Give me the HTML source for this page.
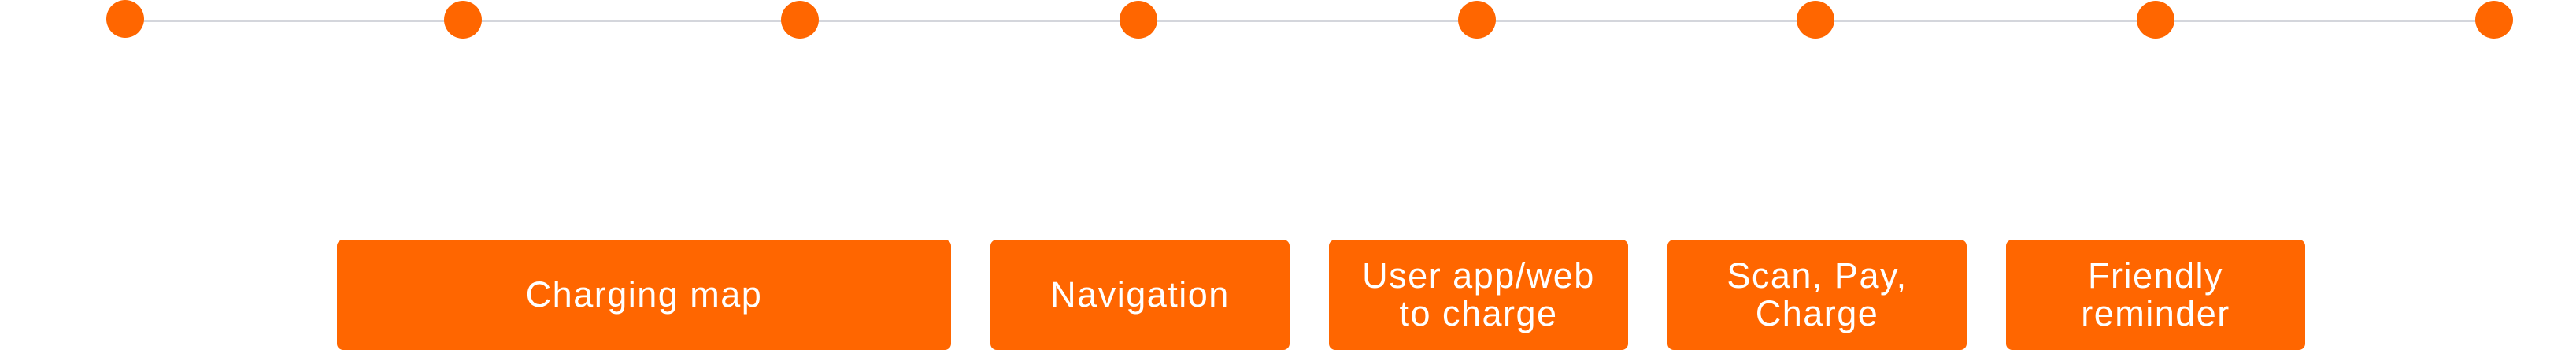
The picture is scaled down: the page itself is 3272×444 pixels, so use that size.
<!DOCTYPE html>
<html><head><style>
html,body{margin:0;padding:0;background:#fff;}
body{width:3272px;height:444px;position:relative;overflow:hidden;font-family:"Liberation Sans",sans-serif;}
.line{position:absolute;left:160px;width:3008px;top:25px;height:3px;background:#d4d6dc;}
.dot{position:absolute;width:48px;height:48px;border-radius:50%;background:#ff6600;top:1px;}
.box{position:absolute;top:304px;height:140px;background:#ff6600;border-radius:8px;color:#fff;display:flex;align-items:center;justify-content:center;text-align:center;font-size:45px;line-height:48px;font-weight:300;letter-spacing:1.5px;}
</style></head><body>
<div class="line"></div>
<div class="dot" style="left:135px;top:0"></div>
<div class="dot" style="left:564px"></div>
<div class="dot" style="left:992px"></div>
<div class="dot" style="left:1422px"></div>
<div class="dot" style="left:1852px"></div>
<div class="dot" style="left:2282px"></div>
<div class="dot" style="left:2714px"></div>
<div class="dot" style="left:3144px"></div>
<div class="box" style="left:428px;width:780px">Charging map</div>
<div class="box" style="left:1258px;width:380px">Navigation</div>
<div class="box" style="left:1688px;width:380px">User app/web<br>to charge</div>
<div class="box" style="left:2118px;width:380px">Scan, Pay,<br>Charge</div>
<div class="box" style="left:2548px;width:380px">Friendly<br>reminder</div>
</body></html>
